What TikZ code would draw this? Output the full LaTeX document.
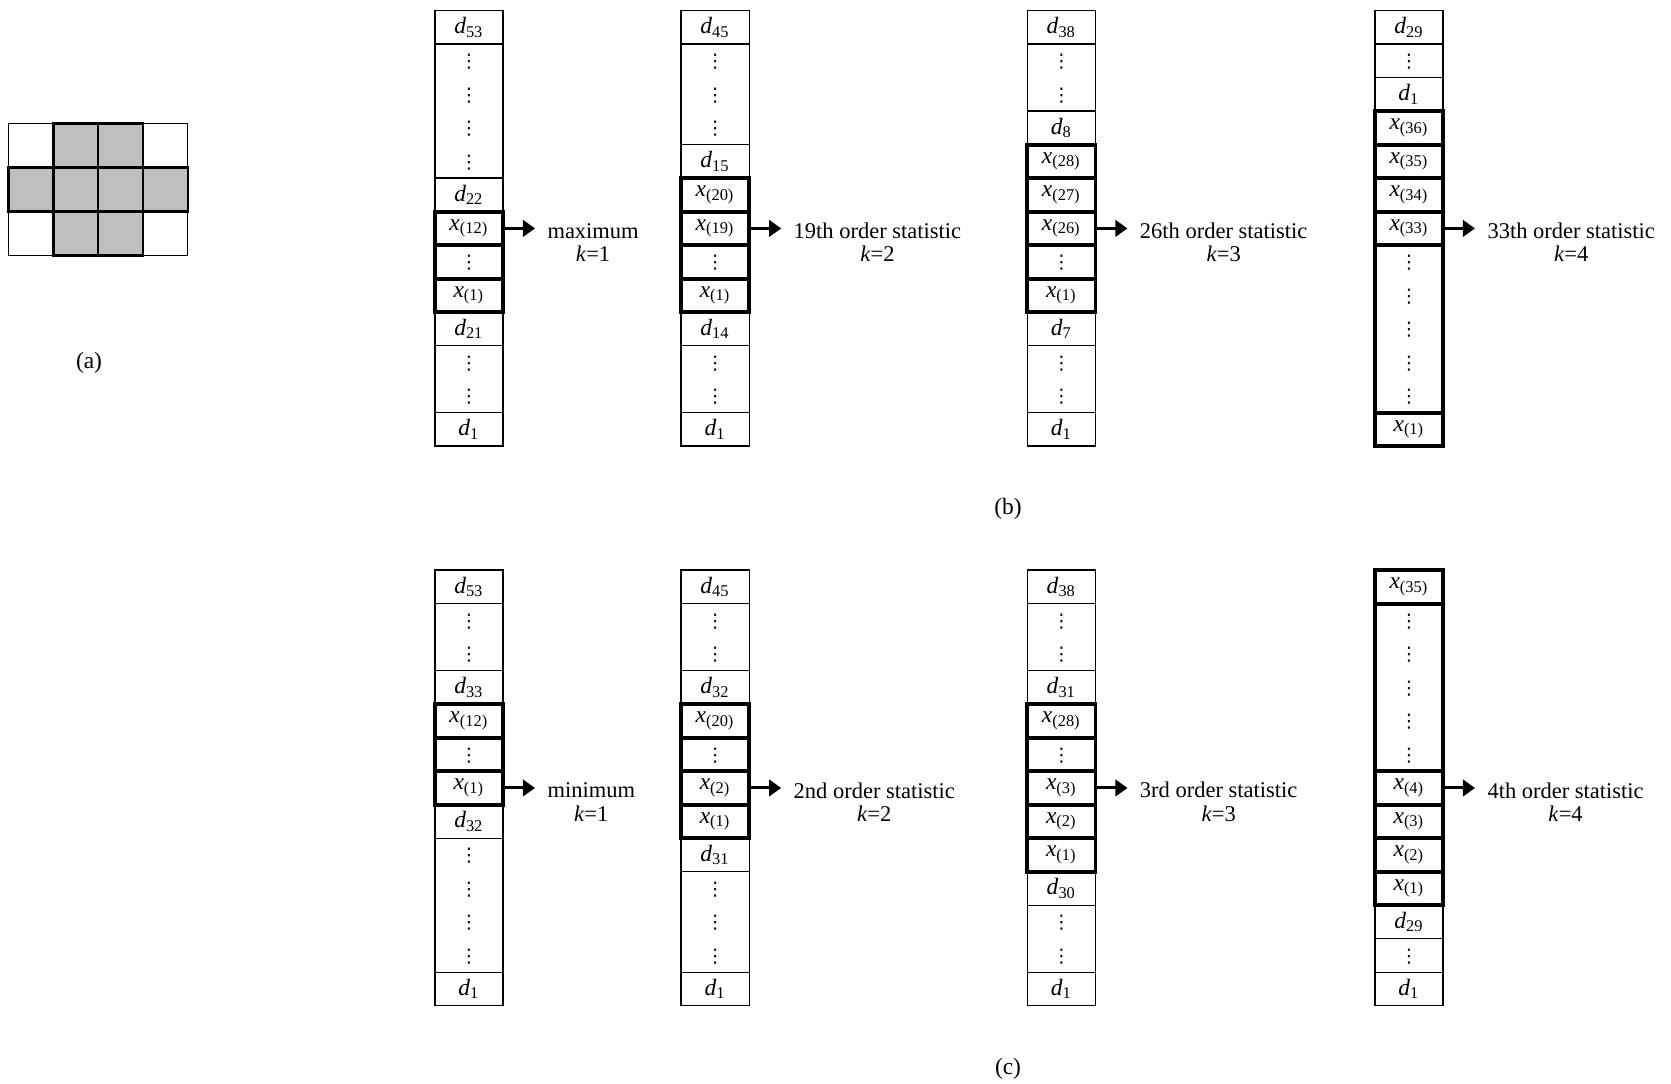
\documentclass[tikz,border=0pt]{standalone}
\usepackage{fontspec}
\setmainfont{Liberation Serif}
\newfontfamily\dotsfont{DejaVu Sans}
\usetikzlibrary{positioning,arrows.meta}

\newcommand{\dd}[1]{\textit{d}\textsubscript{#1}}
\newcommand{\xo}[1]{\textit{x}\textsubscript{(#1)}}
\newcommand{\vd}{\raisebox{-0.5\height}[7.1pt][7.1pt]{\dotsfont\fontsize{8}{8}\selectfont ⋮}}

\begin{document}
\begin{tikzpicture}[tall/.style={minimum height=#1*0.5025cm}]
      \tikzstyle{cell} = [rectangle, draw=black, line width=0.6pt, minimum width=1.023cm, minimum height=0.5025cm, inner sep=0pt, outer sep=0pt, align=center, font=\fontsize{10}{14.29}\selectfont]
      \tikzstyle{bold} = [cell, line width=1.6pt]
      \tikzstyle{arrow} = [line width=1.3pt, -{Triangle[length=5.2pt,width=7pt]}]
      \tikzstyle{stat} = [align=center, inner sep=0pt, yshift=-0.21cm, font=\fontsize{9.6}{10}\selectfont]
      \tikzstyle{pix} = [rectangle, draw=black, line width=0.6pt, minimum width=0.672cm, minimum height=0.66cm, inner sep=0pt, outer sep=0pt]
      \tikzstyle{lit} = [pix, fill=black!25, line width=1pt]
      \tikzstyle{caption} = [font=\fontsize{10}{12}\selectfont]

      \useasboundingbox (0,0) rectangle (25.065,-16.26);

      % (a) neighbourhood
      \node (g11) [pix, anchor=north west] at (0.128,-1.854) {};
      \node (g12) [lit, right=0pt of g11] {};
      \node (g13) [lit, right=0pt of g12] {};
      \node (g14) [pix, right=0pt of g13] {};
      \node (g21) [lit, below=0pt of g11] {};
      \node (g22) [lit, right=0pt of g21] {};
      \node (g23) [lit, right=0pt of g22] {};
      \node (g24) [lit, right=0pt of g23] {};
      \node (g31) [pix, below=0pt of g21] {};
      \node (g32) [lit, right=0pt of g31] {};
      \node (g33) [lit, right=0pt of g32] {};
      \node (g34) [pix, right=0pt of g33] {};
      \node (capa) [caption] at (1.335,-5.445) {(a)};

      % (b) first column
      \node (b1d53) [cell, anchor=north] at (7.034,-0.16) {\dd{53}};
      \node (b1v1) [cell, tall=4, below=0pt of b1d53] {\vd\\\vd\\\vd\\\vd};
      \node (b1d22) [cell, below=0pt of b1v1] {\dd{22}};
      \node (b1x12) [bold, below=0pt of b1d22] {\xo{12}};
      \node (b1v2) [bold, below=0pt of b1x12] {\vd};
      \node (b1x1) [bold, below=0pt of b1v2] {\xo{1}};
      \node (b1d21) [cell, below=0pt of b1x1] {\dd{21}};
      \node (b1v3) [cell, tall=2, below=0pt of b1d21] {\vd\\\vd};
      \node (b1d1) [cell, below=0pt of b1v3] {\dd{1}};
      \coordinate [right=0.48cm of b1x12.east] (b1tip);
      \draw [arrow] (b1x12) -- (b1tip);
      \node (b1lab) [stat, right=0.18cm of b1tip] {maximum\\\textit{k}=1};

      % (b) second column
      \node (b2d45) [cell, anchor=north] at (10.727,-0.16) {\dd{45}};
      \node (b2v1) [cell, tall=3, below=0pt of b2d45] {\vd\\\vd\\\vd};
      \node (b2d15) [cell, below=0pt of b2v1] {\dd{15}};
      \node (b2x20) [bold, below=0pt of b2d15] {\xo{20}};
      \node (b2x19) [bold, below=0pt of b2x20] {\xo{19}};
      \node (b2v2) [bold, below=0pt of b2x19] {\vd};
      \node (b2x1) [bold, below=0pt of b2v2] {\xo{1}};
      \node (b2d14) [cell, below=0pt of b2x1] {\dd{14}};
      \node (b2v3) [cell, tall=2, below=0pt of b2d14] {\vd\\\vd};
      \node (b2d1) [cell, below=0pt of b2v3] {\dd{1}};
      \coordinate [right=0.48cm of b2x19.east] (b2tip);
      \draw [arrow] (b2x19) -- (b2tip);
      \node (b2lab) [stat, right=0.18cm of b2tip] {19th order statistic\\\textit{k}=2};

      % (b) third column
      \node (b3d38) [cell, anchor=north] at (15.921,-0.16) {\dd{38}};
      \node (b3v1) [cell, tall=2, below=0pt of b3d38] {\vd\\\vd};
      \node (b3d8) [cell, below=0pt of b3v1] {\dd{8}};
      \node (b3x28) [bold, below=0pt of b3d8] {\xo{28}};
      \node (b3x27) [bold, below=0pt of b3x28] {\xo{27}};
      \node (b3x26) [bold, below=0pt of b3x27] {\xo{26}};
      \node (b3v2) [bold, below=0pt of b3x26] {\vd};
      \node (b3x1) [bold, below=0pt of b3v2] {\xo{1}};
      \node (b3d7) [cell, below=0pt of b3x1] {\dd{7}};
      \node (b3v3) [cell, tall=2, below=0pt of b3d7] {\vd\\\vd};
      \node (b3d1) [cell, below=0pt of b3v3] {\dd{1}};
      \coordinate [right=0.48cm of b3x26.east] (b3tip);
      \draw [arrow] (b3x26) -- (b3tip);
      \node (b3lab) [stat, right=0.18cm of b3tip] {26th order statistic\\\textit{k}=3};

      % (b) fourth column
      \node (b4d29) [cell, anchor=north] at (21.134,-0.16) {\dd{29}};
      \node (b4v1) [cell, below=0pt of b4d29] {\vd};
      \node (b4d1) [cell, below=0pt of b4v1] {\dd{1}};
      \node (b4x36) [bold, below=0pt of b4d1] {\xo{36}};
      \node (b4x35) [bold, below=0pt of b4x36] {\xo{35}};
      \node (b4x34) [bold, below=0pt of b4x35] {\xo{34}};
      \node (b4x33) [bold, below=0pt of b4x34] {\xo{33}};
      \node (b4v2) [bold, tall=5, below=0pt of b4x33] {\vd\\\vd\\\vd\\\vd\\\vd};
      \node (b4x1) [bold, below=0pt of b4v2] {\xo{1}};
      \coordinate [right=0.48cm of b4x33.east] (b4tip);
      \draw [arrow] (b4x33) -- (b4tip);
      \node (b4lab) [stat, right=0.18cm of b4tip] {33th order statistic\\\textit{k}=4};

      \node (capb) [caption] at (15.12,-7.635) {(b)};

      % (c) first column
      \node (c1d53) [cell, anchor=north] at (7.034,-8.553) {\dd{53}};
      \node (c1v1) [cell, tall=2, below=0pt of c1d53] {\vd\\\vd};
      \node (c1d33) [cell, below=0pt of c1v1] {\dd{33}};
      \node (c1x12) [bold, below=0pt of c1d33] {\xo{12}};
      \node (c1v2) [bold, below=0pt of c1x12] {\vd};
      \node (c1x1) [bold, below=0pt of c1v2] {\xo{1}};
      \node (c1d32) [cell, below=0pt of c1x1] {\dd{32}};
      \node (c1v3) [cell, tall=4, below=0pt of c1d32] {\vd\\\vd\\\vd\\\vd};
      \node (c1d1) [cell, below=0pt of c1v3] {\dd{1}};
      \coordinate [right=0.48cm of c1x1.east] (c1tip);
      \draw [arrow] (c1x1) -- (c1tip);
      \node (c1lab) [stat, right=0.18cm of c1tip] {minimum\\\textit{k}=1};

      % (c) second column
      \node (c2d45) [cell, anchor=north] at (10.727,-8.553) {\dd{45}};
      \node (c2v1) [cell, tall=2, below=0pt of c2d45] {\vd\\\vd};
      \node (c2d32) [cell, below=0pt of c2v1] {\dd{32}};
      \node (c2x20) [bold, below=0pt of c2d32] {\xo{20}};
      \node (c2v2) [bold, below=0pt of c2x20] {\vd};
      \node (c2x2) [bold, below=0pt of c2v2] {\xo{2}};
      \node (c2x1) [bold, below=0pt of c2x2] {\xo{1}};
      \node (c2d31) [cell, below=0pt of c2x1] {\dd{31}};
      \node (c2v3) [cell, tall=3, below=0pt of c2d31] {\vd\\\vd\\\vd};
      \node (c2d1) [cell, below=0pt of c2v3] {\dd{1}};
      \coordinate [right=0.48cm of c2x2.east] (c2tip);
      \draw [arrow] (c2x2) -- (c2tip);
      \node (c2lab) [stat, right=0.18cm of c2tip] {2nd order statistic\\\textit{k}=2};

      % (c) third column
      \node (c3d38) [cell, anchor=north] at (15.921,-8.553) {\dd{38}};
      \node (c3v1) [cell, tall=2, below=0pt of c3d38] {\vd\\\vd};
      \node (c3d31) [cell, below=0pt of c3v1] {\dd{31}};
      \node (c3x28) [bold, below=0pt of c3d31] {\xo{28}};
      \node (c3v2) [bold, below=0pt of c3x28] {\vd};
      \node (c3x3) [bold, below=0pt of c3v2] {\xo{3}};
      \node (c3x2) [bold, below=0pt of c3x3] {\xo{2}};
      \node (c3x1) [bold, below=0pt of c3x2] {\xo{1}};
      \node (c3d30) [cell, below=0pt of c3x1] {\dd{30}};
      \node (c3v3) [cell, tall=2, below=0pt of c3d30] {\vd\\\vd};
      \node (c3d1) [cell, below=0pt of c3v3] {\dd{1}};
      \coordinate [right=0.48cm of c3x3.east] (c3tip);
      \draw [arrow] (c3x3) -- (c3tip);
      \node (c3lab) [stat, right=0.18cm of c3tip] {3rd order statistic\\\textit{k}=3};

      % (c) fourth column
      \node (c4x35) [bold, anchor=north] at (21.134,-8.553) {\xo{35}};
      \node (c4v1) [bold, tall=5, below=0pt of c4x35] {\vd\\\vd\\\vd\\\vd\\\vd};
      \node (c4x4) [bold, below=0pt of c4v1] {\xo{4}};
      \node (c4x3) [bold, below=0pt of c4x4] {\xo{3}};
      \node (c4x2) [bold, below=0pt of c4x3] {\xo{2}};
      \node (c4x1) [bold, below=0pt of c4x2] {\xo{1}};
      \node (c4d29) [cell, below=0pt of c4x1] {\dd{29}};
      \node (c4v2) [cell, below=0pt of c4d29] {\vd};
      \node (c4d1) [cell, below=0pt of c4v2] {\dd{1}};
      \coordinate [right=0.48cm of c4x4.east] (c4tip);
      \draw [arrow] (c4x4) -- (c4tip);
      \node (c4lab) [stat, right=0.18cm of c4tip] {4th order statistic\\\textit{k}=4};

      \node (capc) [caption] at (15.12,-16.035) {(c)};
    \end{tikzpicture}
\end{document}
